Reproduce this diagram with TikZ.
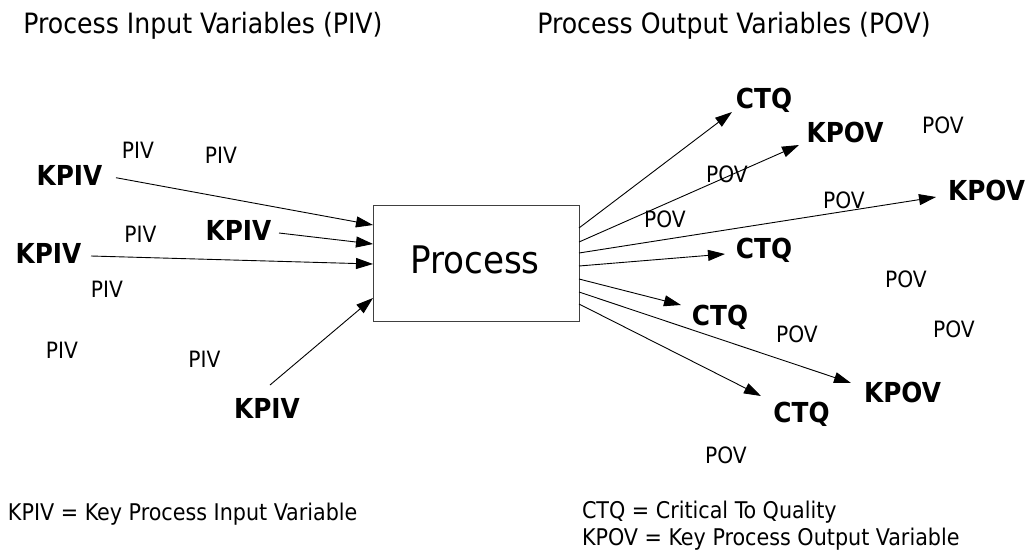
\documentclass[tikz,border=0pt]{standalone}
\usepackage{fontspec}
\setmainfont{DejaVu Sans Condensed}
\usetikzlibrary{arrows.meta}
\tikzset{
  every node/.style={inner sep=0pt, outer sep=0pt},
  head/.style={anchor=base, font=\fontsize{28}{32}\selectfont},
  legend/.style={anchor=base west, font=\fontsize{23}{27}\selectfont},
  var/.style={anchor=base, font=\fontsize{22.5}{26}\selectfont},
  keyvar/.style={anchor=base, font=\bfseries\fontsize{27.5}{30}\selectfont},
  flow/.style={line width=0.9pt, -{Triangle[length=17pt,width=11pt]}},
  procbox/.style={draw=black!75, line width=1pt, fill=white,
    minimum width=206pt, minimum height=116pt}
}
\begin{document}
\begin{tikzpicture}[x=1pt,y=-1pt]
\useasboundingbox (0,0) rectangle (1028,552);

% headings
\node[head] (hin)  at (203,33) {Process Input Variables (PIV)};
\node[head] (hout) at (734,33) {Process Output Variables (POV)};

% the process block
\node[procbox] (proc) at (476,263) {};
\node[anchor=base, font=\fontsize{38}{42}\selectfont] (proctext) at (475,273) {Process};

% input side labels
\node[keyvar] (kpiv1) at (69.5,185) {KPIV};
\node[keyvar] (kpiv2) at (238.5,240) {KPIV};
\node[keyvar] (kpiv3) at (48.5,263) {KPIV};
\node[keyvar] (kpiv4) at (267,418) {KPIV};
\node[var] (piv1) at (138,158) {PIV};
\node[var] (piv2) at (221,163) {PIV};
\node[var] (piv3) at (140.5,242) {PIV};
\node[var] (piv4) at (107,297) {PIV};
\node[var] (piv5) at (204.5,367) {PIV};
\node[var] (piv6) at (62,358) {PIV};

% output side labels
\node[keyvar] (ctq1) at (764,108) {CTQ};
\node[keyvar] (kpov1) at (845,142) {KPOV};
\node[keyvar] (kpov2) at (986.5,200) {KPOV};
\node[keyvar] (ctq2) at (764,258) {CTQ};
\node[keyvar] (ctq3) at (720,325) {CTQ};
\node[keyvar] (kpov3) at (902.5,402) {KPOV};
\node[keyvar] (ctq4) at (801.5,422) {CTQ};
\node[var] (pov1) at (943,133) {POV};
\node[var] (pov2) at (727,182) {POV};
\node[var] (pov3) at (665,227) {POV};
\node[var] (pov4) at (844,208) {POV};
\node[var] (pov5) at (906,287) {POV};
\node[var] (pov6) at (797,342) {POV};
\node[var] (pov7) at (954,337) {POV};
\node[var] (pov8) at (726,463) {POV};

% arrow ends
\coordinate (a1) at (116,177.7);  \coordinate (b1) at (373,225);
\coordinate (a2) at (279,233);    \coordinate (b2) at (373,244);
\coordinate (a3) at (91,256);     \coordinate (b3) at (373,264);
\coordinate (a4) at (270,385);    \coordinate (b4) at (373,298);
\coordinate (c1) at (579,228);    \coordinate (d1) at (732,112);
\coordinate (c2) at (579,242);    \coordinate (d2) at (799,145);
\coordinate (c3) at (579,253);    \coordinate (d3) at (936,197);
\coordinate (c4) at (579,266);    \coordinate (d4) at (725,254);
\coordinate (c5) at (579,279);    \coordinate (d5) at (681,305);
\coordinate (c6) at (579,292);    \coordinate (d6) at (851,383);
\coordinate (c7) at (579,304);    \coordinate (d7) at (761,396);

% inputs
\draw[flow] (a1) -- (b1);
\draw[flow] (a2) -- (b2);
\draw[flow] (a3) -- (b3);
\draw[flow] (a4) -- (b4);
% outputs
\draw[flow] (c1) -- (d1);
\draw[flow] (c2) -- (d2);
\draw[flow] (c3) -- (d3);
\draw[flow] (c4) -- (d4);
\draw[flow] (c5) -- (d5);
\draw[flow] (c6) -- (d6);
\draw[flow] (c7) -- (d7);

% legends
\node[legend] (leg1) at (8,520) {KPIV = Key Process Input Variable};
\node[legend] (leg2) at (582,518) {CTQ = Critical To Quality};
\node[legend] (leg3) at (582,545) {KPOV = Key Process Output Variable};
\end{tikzpicture}
\end{document}
